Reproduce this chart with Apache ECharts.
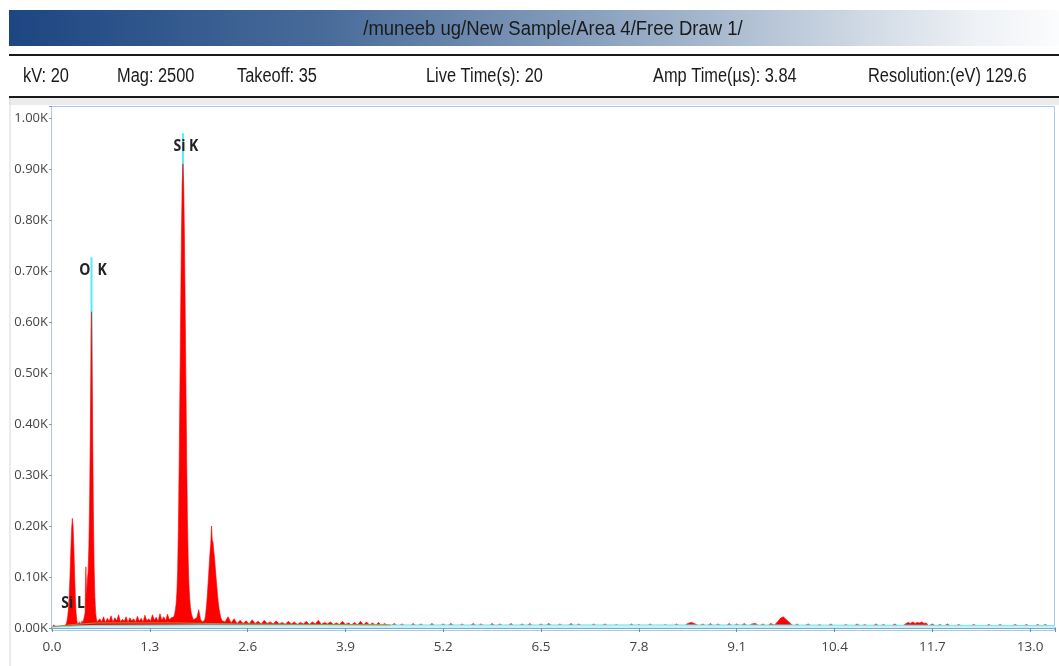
<!DOCTYPE html>
<html>
<head>
<meta charset="utf-8">
<script src="https://cdn.jsdelivr.net/npm/echarts@6/dist/echarts.min.js"></script>
<style>
html,body{margin:0;padding:0;background:#fff;}
#chart{width:1059px;height:666px;}
</style>
</head>
<body>
<div id="chart"></div>
<script>
// ---- Header texts ----
const titleText = '/muneeb ug/New Sample/Area 4/Free Draw 1/';
const infoLabels = ['kV: 20', 'Mag: 2500', 'Takeoff: 35', 'Live Time(s): 20', 'Amp Time(\u00b5s): 3.84', 'Resolution:(eV) 129.6'];
const infoX = [23, 117, 237, 426, 653, 868];

// ---- Axis ticks ----
const xTickInterval = 1.3;
const xMax = 13.33;
const yTickInterval = 100;
const yMax = 1023.5;

// ---- Spectrum, [energy keV, counts] ----
const spectrumLow = [[0.00,0],[0.01,3],[0.02,6],[0.03,8],[0.04,5],[0.05,3],[0.07,2],[0.10,2],[0.13,3],[0.16,3],[0.18,5]];
const peakC = [[0.19,8],[0.20,14],[0.21,24],[0.22,40],[0.23,68],[0.24,105],[0.25,150],[0.26,192],[0.27,215],[0.28,200],[0.29,160],[0.30,108],[0.31,62],[0.32,30],[0.33,14],[0.34,8]];
const gapCO = [[0.35,6],[0.36,9],[0.37,12],[0.38,7],[0.39,10],[0.40,14],[0.41,9],[0.42,16],[0.43,22],[0.44,30],[0.45,120],[0.46,60],[0.47,95]];
const peakO = [[0.48,110],[0.49,160],[0.50,250],[0.51,390],[0.515,480],[0.52,565],[0.525,620],[0.53,575],[0.535,485],[0.54,390],[0.55,230],[0.56,120],[0.57,60],[0.58,30],[0.59,18],[0.60,12]];
const noiseA = [[0.61,10],[0.635,18],[0.66,12],[0.685,22],[0.71,11],[0.735,19],[0.76,13],[0.785,24],[0.81,12],[0.835,20],[0.86,14],[0.885,26],[0.91,12],[0.935,17],[0.96,13],[0.985,22],[1.01,11],[1.035,20],[1.06,14],[1.085,18],[1.11,12],[1.135,23],[1.16,13],[1.185,19],[1.21,12],[1.235,25],[1.26,14],[1.285,18],[1.31,13],[1.335,26],[1.36,15],[1.385,21],[1.41,13],[1.435,28],[1.46,15],[1.485,22],[1.51,14],[1.535,27],[1.56,16],[1.585,20],[1.61,18]];
const peakSi = [[1.62,22],[1.63,28],[1.64,36],[1.65,48],[1.66,70],[1.67,115],[1.68,200],[1.69,320],[1.70,470],[1.71,625],[1.72,765],[1.73,870],[1.74,910],[1.75,870],[1.76,770],[1.77,630],[1.78,480],[1.79,330],[1.80,215],[1.81,135],[1.82,85],[1.83,58],[1.84,40],[1.85,30],[1.86,24],[1.87,20],[1.88,16]];
const gapSiP = [[1.90,14],[1.925,20],[1.95,36],[1.975,16],[2.00,12],[2.02,14]];
const peakP = [[2.03,16],[2.04,24],[2.05,38],[2.06,55],[2.07,78],[2.08,100],[2.09,125],[2.10,148],[2.11,165],[2.12,200],[2.13,172],[2.14,168],[2.15,150],[2.16,138],[2.17,118],[2.18,100],[2.19,82],[2.20,64],[2.21,50],[2.22,38],[2.23,30],[2.24,22],[2.25,18],[2.26,14],[2.28,11]];
const noiseB = [[2.30,12],[2.34,22],[2.38,10],[2.42,18],[2.46,9],[2.50,15],[2.54,9],[2.58,14],[2.62,8],[2.66,16],[2.70,9],[2.74,13],[2.78,8],[2.82,15],[2.86,9],[2.90,12],[2.94,8],[2.98,14],[3.02,8],[3.06,11],[3.10,7],[3.14,13],[3.18,8],[3.22,12],[3.26,7],[3.30,11],[3.34,8],[3.38,13],[3.42,7],[3.46,12],[3.50,8],[3.54,15],[3.58,7],[3.62,11],[3.66,8],[3.70,12],[3.74,7],[3.78,10],[3.82,7],[3.86,13],[3.90,7],[3.94,10],[3.98,6],[4.02,11],[4.06,6],[4.10,13],[4.14,6],[4.18,12],[4.22,6],[4.26,10],[4.30,5],[4.34,11],[4.38,5],[4.42,9],[4.46,5]];
const noiseC = [[4.50,4],[4.55,9],[4.60,3],[4.65,8],[4.70,4],[4.75,3],[4.80,9],[4.85,3],[4.90,8],[4.95,4],[5.00,3],[5.05,9],[5.10,3],[5.15,4],[5.20,8],[5.25,3],[5.30,9],[5.35,4],[5.40,3],[5.45,8],[5.50,3],[5.55,4],[5.60,9],[5.65,3],[5.70,8],[5.75,4],[5.80,3],[5.85,9],[5.90,3],[5.95,8],[6.00,4],[6.05,3],[6.10,9],[6.15,3],[6.20,4],[6.25,8],[6.30,3],[6.35,9],[6.40,3],[6.45,4],[6.50,8],[6.55,3],[6.60,9],[6.65,4],[6.70,3],[6.75,8],[6.80,3],[6.85,4],[6.90,9],[6.95,3],[7.00,8],[7.05,3],[7.10,4],[7.15,3],[7.20,8],[7.25,3],[7.30,4],[7.35,8],[7.40,3],[7.45,3],[7.50,7],[7.55,3],[7.60,4],[7.65,3],[7.70,8],[7.75,3],[7.80,7],[7.85,3],[7.90,3],[7.95,8],[8.00,3],[8.05,4],[8.10,3],[8.15,7],[8.20,3],[8.25,3],[8.30,8],[8.35,3],[8.40,4],[8.45,9],[8.50,11],[8.55,8],[8.60,4],[8.65,8],[8.70,3],[8.75,9],[8.80,3],[8.85,8],[8.90,4],[8.95,3],[9.00,9],[9.05,3],[9.10,8],[9.15,4],[9.20,9],[9.25,3],[9.30,8],[9.35,9],[9.40,4],[9.45,8],[9.50,3],[9.55,9],[9.60,6]];
const peakAuL = [[9.63,10],[9.66,15],[9.68,19],[9.70,17],[9.72,22],[9.74,20],[9.76,16],[9.78,18],[9.80,11],[9.83,7],[9.86,3]];
const noiseD = [[9.90,8],[9.95,3],[10.00,4],[10.05,8],[10.10,3],[10.15,3],[10.20,7],[10.25,3],[10.30,3],[10.35,8],[10.40,3],[10.45,3],[10.50,3],[10.55,7],[10.60,3],[10.65,3],[10.70,8],[10.75,3],[10.80,7],[10.85,3],[10.90,3],[10.95,8],[11.00,3],[11.05,7],[11.10,3],[11.15,3],[11.20,8],[11.25,3],[11.30,3],[11.35,9],[11.38,11],[11.41,9],[11.44,12],[11.47,9],[11.50,11],[11.53,10],[11.56,12],[11.59,9],[11.62,10],[11.65,4],[11.70,8],[11.75,3],[11.80,7],[11.85,3],[11.90,8],[11.95,3],[12.00,3],[12.05,7],[12.10,3],[12.15,3],[12.20,3],[12.25,7],[12.30,3],[12.35,3],[12.40,3],[12.45,7],[12.50,3],[12.55,3],[12.60,7],[12.65,3],[12.70,3],[12.75,3],[12.80,7],[12.85,3],[12.90,3],[12.95,7],[13.00,3],[13.05,3],[13.10,7],[13.15,3],[13.20,7],[13.25,3],[13.30,3],[13.33,3]];

// ---- Background (cyan) and continuum fit (olive) ----
const background = [[0.00,2],[0.30,4],[0.60,5],[2.00,6],[4.00,6],[6.00,6],[9.00,6],[13.33,5]];
const continuumFit = [[0.02,3],[0.30,7],[0.60,10],[1.00,10],[1.60,10],[2.00,9],[2.50,8],[3.50,7],[4.50,6]];

// ---- Element markers ----
const markerNames = ['Si L', 'O  K', 'Si K'];
const markerEnergy = [0.27, 0.525, 1.74];
const markerLineTop = [0, 727, 970];
const markerLabelEnergy = [0.28, 0.545, 1.78];
const markerLabelValue = [48, 702, 945];

const spectrum = [].concat(spectrumLow, peakC, gapCO, peakO, noiseA, peakSi, gapSiP, peakP, noiseB, noiseC, peakAuL, noiseD);

const chart = echarts.init(document.getElementById('chart'), null, {renderer: 'canvas'});

const headerFont = '"Liberation Sans", Arial, sans-serif';
const graphics = [
  {type:'rect', z:-10, shape:{x:9, y:10, width:1050, height:36},
   style:{fill:{type:'linear', x:0, y:0, x2:1, y2:0, colorStops:[
     {offset:0, color:'#1c4682'},{offset:0.3, color:'#486b99'},{offset:0.65, color:'#a1b4cb'},{offset:0.92, color:'#eef1f5'},{offset:1, color:'#fbfcfd'}]}}},
  {type:'text', z:10, x:553, y:29, scaleY:1.12, style:{text:titleText, font:'18.5px ' + headerFont, fill:'#1a1a1a', textAlign:'center', textVerticalAlign:'middle', align:'center', verticalAlign:'middle'}},
  {type:'line', z:10, shape:{x1:9, y1:55, x2:1059, y2:55}, style:{stroke:'#1a1a1a', lineWidth:2}},
  {type:'line', z:10, shape:{x1:9, y1:97, x2:1059, y2:97}, style:{stroke:'#1a1a1a', lineWidth:2}},
  {type:'rect', z:-10, shape:{x:9, y:98, width:1050, height:7}, style:{fill:'#ececec'}},
  {type:'line', z:-10, shape:{x1:10, y1:98, x2:10, y2:666}, style:{stroke:'#d8d8d8', lineWidth:1}},
  {type:'rect', z:-5, shape:{x:51.5, y:106.5, width:1003, height:524}, style:{fill:'#ffffff', stroke:'#a9c9e8', lineWidth:1}}
];
infoLabels.forEach((t, i) => {
  graphics.push({type:'text', z:10, x:infoX[i], y:76, scaleY:1.22, style:{text:t, font:'16.4px ' + headerFont, fill:'#1a1a1a', textAlign:'left', textVerticalAlign:'middle', align:'left', verticalAlign:'middle'}});
});

const axisFont = '"Open Sans", "Noto Sans", sans-serif';

const option = {
  animation: false,
  backgroundColor: '#ffffff',
  graphic: graphics,
  grid: {left: 52, right: 4, top: 106, bottom: 38, containLabel: false},
  xAxis: {
    type: 'value', min: 0, max: xMax, interval: xTickInterval, offset: 3,
    axisLine: {lineStyle: {color: '#7ea6d8', width: 2}},
    axisTick: {length: 4, lineStyle: {color: '#6a8fb9'}},
    axisLabel: {fontFamily: axisFont, fontSize: 13.5, color: '#444', margin: 9,
      formatter: v => v > 13.05 ? '' : v.toFixed(1)},
    splitLine: {show: false}
  },
  yAxis: {
    type: 'value', min: 0, max: yMax, interval: yTickInterval,
    axisLine: {show: false},
    axisTick: {show: true, length: 3, lineStyle: {color: '#999'}},
    axisLabel: {fontFamily: axisFont, fontSize: 13, color: '#444', margin: 4,
      formatter: v => v > 1000.5 ? '' : (v / 1000).toFixed(2) + 'K'},
    splitLine: {show: false}
  },
  series: [
    {
      type: 'custom', name: 'markerLines', z: 1,
      data: markerEnergy.map((e, i) => [e, markerLineTop[i]]),
      encode: {x: 0, y: 1},
      renderItem: (params, api) => {
        const top = api.value(1);
        if (!top) return null;
        const p0 = api.coord([api.value(0), 0]);
        const p1 = api.coord([api.value(0), top]);
        return {type: 'line', shape: {x1: p0[0], y1: p0[1], x2: p1[0], y2: p1[1]},
          style: {stroke: '#52eef4', lineWidth: 2}};
      }
    },
    {
      type: 'line', name: 'spectrum', z: 2, data: spectrum, symbol: 'none', sampling: 'none',
      lineStyle: {color: '#ff0000', width: 0.6},
      areaStyle: {color: '#ff0000', opacity: 1}
    },
    {
      type: 'line', name: 'background', z: 3, data: background, symbol: 'none',
      lineStyle: {color: '#6fe4ea', width: 1},
      areaStyle: {color: '#c6f4f4', opacity: 1}
    },
    {
      type: 'line', name: 'continuum', z: 3, data: continuumFit, symbol: 'none',
      lineStyle: {color: '#a88f3c', width: 1}
    },
    {
      type: 'custom', name: 'markerLabels', z: 5,
      data: markerLabelEnergy.map((e, i) => [e, markerLabelValue[i], i]),
      encode: {x: 0, y: 1},
      renderItem: (params, api) => {
        const p = api.coord([api.value(0), api.value(1)]);
        return {type: 'text', x: p[0], y: p[1], scaleY: 1.15,
          style: {text: markerNames[api.value(2)], font: 'bold 14px ' + axisFont, fill: '#222',
            textAlign: 'center', textVerticalAlign: 'middle', align: 'center', verticalAlign: 'middle'}};
      }
    }
  ]
};
chart.setOption(option);
</script>
</body>
</html>
